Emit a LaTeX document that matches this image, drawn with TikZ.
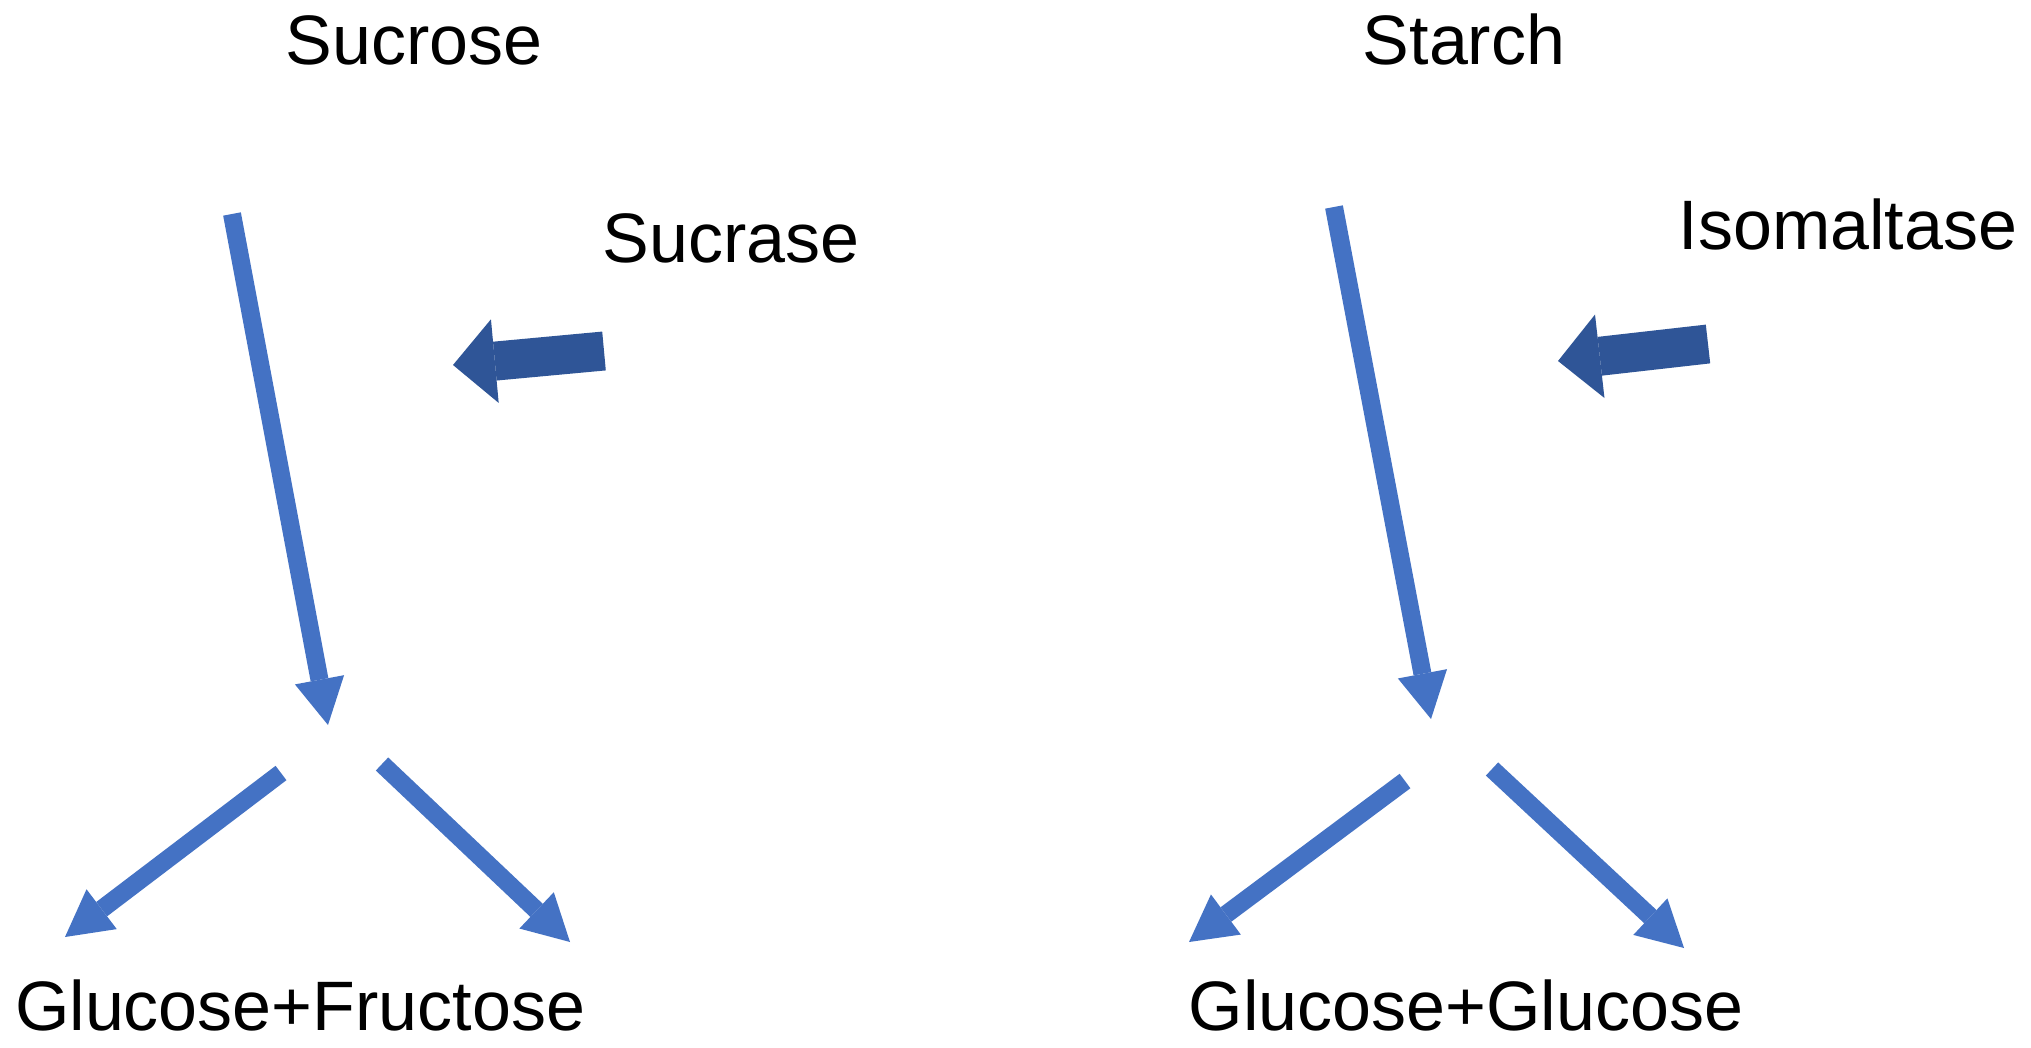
\documentclass[tikz,border=0pt]{standalone}
\usepackage{fontspec}
\setmainfont{Liberation Sans}
\usetikzlibrary{arrows.meta}
\definecolor{arrowblue}{RGB}{68,114,196}
\definecolor{enzblue}{RGB}{47,85,151}
\begin{document}
\begin{tikzpicture}[x=1pt,y=-1pt,
  lbl/.style={font=\fontsize{70}{84}\selectfont, anchor=base, inner sep=0pt},
  flow/.style={draw=arrowblue, line width=18pt, -{Triangle[width=50pt,length=46pt,line width=0pt]}},
  enz/.style={draw=enzblue, line width=39pt, -{Triangle[width=84pt,length=42pt,line width=0pt]}}]
\fill[white] (0,0) rectangle (2031,1048);
\useasboundingbox (0,0) rectangle (2031,1048);
% texts
\node[lbl] (sucrose) at (414,65) {Sucrose};
\node[lbl] (starch) at (1464,65) {Starch};
\node[lbl] (sucrase) at (731,263) {Sucrase};
\node[lbl] (isomaltase) at (1848,250) {Isomaltase};
\node[lbl] (glufru) at (300,1030) {Glucose+Fructose};
\node[lbl] (gluglu) at (1466,1030) {Glucose+Glucose};
% left coordinates
\coordinate (ls) at (232,214);
\coordinate (lt) at (328,725);
\coordinate (lbls) at (281,773);
\coordinate (lblt) at (65,937);
\coordinate (lbrs) at (382,764);
\coordinate (lbrt) at (570,942);
\coordinate (les) at (604,351);
\coordinate (let) at (453,365);
% right coordinates
\coordinate (rs) at (1334,207);
\coordinate (rt) at (1431,719);
\coordinate (rbls) at (1405,781);
\coordinate (rblt) at (1189,942);
\coordinate (rbrs) at (1492,769);
\coordinate (rbrt) at (1684,948);
\coordinate (res) at (1708,344);
\coordinate (ret) at (1558,361);
% arrows
\draw[flow] (ls) -- (lt);
\draw[flow] (lbls) -- (lblt);
\draw[flow] (lbrs) -- (lbrt);
\draw[enz] (les) -- (let);
\draw[flow] (rs) -- (rt);
\draw[flow] (rbls) -- (rblt);
\draw[flow] (rbrs) -- (rbrt);
\draw[enz] (res) -- (ret);
\end{tikzpicture}
\end{document}
